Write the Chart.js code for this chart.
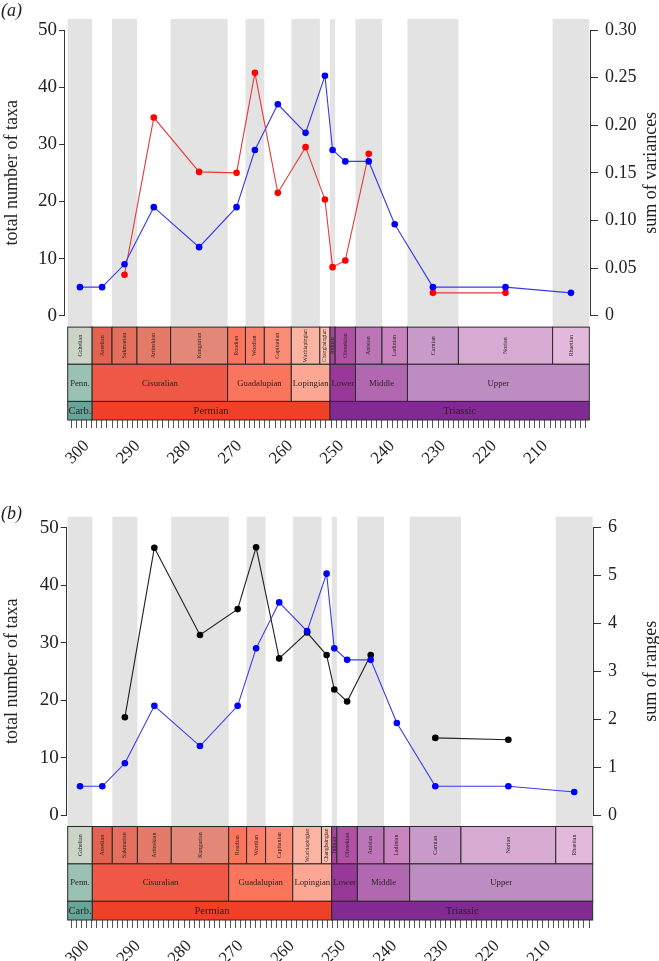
<!DOCTYPE html>
<html>
<head>
<meta charset="utf-8">
<script src="https://cdn.jsdelivr.net/npm/chart.js@4.4.1/dist/chart.umd.min.js"></script>
<style>
  html, body { margin: 0; padding: 0; background: #fff; }
  #wrap { position: relative; width: 659px; height: 961px; overflow: hidden; }
  .panel { position: absolute; left: 0; width: 659px; }
  #panelA { top: 0; height: 480px; }
  #panelB { top: 480px; height: 481px; }
</style>
</head>
<body>
<div id="wrap">
  <div class="panel" id="panelA"><canvas id="chartA"></canvas></div>
  <div class="panel" id="panelB"><canvas id="chartB"></canvas></div>
</div>
<script>
// --- geological timescale (Ma, oldest first) ---
const stageNames = ["Gzhelian", "Asselian", "Sakmarian", "Artinskian", "Kungurian", "Roadian", "Wordian",
  "Capitanian", "Wuchiapingian", "Changhsingian", "Induan", "Olenekian", "Anisian", "Ladinian",
  "Carnian", "Norian", "Rhaetian"];
const stageBounds = [303.7, 298.9, 295.0, 290.1, 283.5, 272.3, 268.8, 265.1, 259.8, 254.2, 252.2,
  251.2, 247.2, 242.0, 237.0, 227.0, 208.5, 201.3];
const stageColors = ["#CCD4C7", "#E36350", "#E36F5C", "#E37B68", "#E38776", "#FB745C", "#FB8069",
  "#FB8D76", "#FCB4A2", "#FCC0B2", "#A4469F", "#B051A5", "#BC75B7", "#C983BF", "#C99BCB",
  "#D6AAD3", "#E3B9DB"];

const seriesNames = ["Penn.", "Cisuralian", "Guadalupian", "Lopingian", "Lower", "Middle", "Upper"];
const seriesBounds = [303.7, 298.9, 272.3, 259.8, 252.2, 247.2, 237.0, 201.3];
const seriesColors = ["#99C2B5", "#EF5845", "#FB745C", "#FBA794", "#983999", "#B168B1", "#BD8CC3"];

const periodNames = ["Carb.", "Permian", "Triassic"];
const periodBounds = [303.7, 298.9, 252.2, 201.3];
const periodColors = ["#67A599", "#F04028", "#812B92"];

// --- series, one value per stage ---
const totalTaxa = [5, 5, 9, 19, 12, 19, 29, 37, 32, 42, 29, 27, 27, 16, 5, 5, 4];
const sumVariances = [null, null, 0.043, 0.208, 0.151, 0.150, 0.255, 0.129, 0.177, 0.122,
  0.051, 0.058, 0.170, null, 0.024, 0.024, null];
const sumRanges = [null, null, 2.04, 5.58, 3.76, 4.30, 5.59, 3.27, 3.81, 3.34,
  2.62, 2.37, 3.34, null, 1.61, 1.57, null];

// --- ticks ---
const ageTicks = [300, 290, 280, 270, 260, 250, 240, 230, 220, 210];
const minorTickRange = [202, 303];
const taxaTicks = [0, 10, 20, 30, 40, 50];
const varianceTicks = [0, 0.05, 0.10, 0.15, 0.20, 0.25, 0.30];
const varianceTickLabels = ["0", "0.05", "0.10", "0.15", "0.20", "0.25", "0.30"];
const rangeTicks = [0, 1, 2, 3, 4, 5, 6];
const rangeTickLabels = ["0", "1", "2", "3", "4", "5", "6"];

const SERIF = "'Liberation Serif', 'DejaVu Serif', serif";
const W = 659;

const stageMid = stageNames.map((_, i) => (stageBounds[i] + stageBounds[i + 1]) / 2);
const minorAges = [];
for (let a = minorTickRange[0]; a <= minorTickRange[1]; a++) minorAges.push(a);

const toPoints = (vals) => vals.map((v, i) => ({ x: stageMid[i], y: v }));

function drawBoxes(ctx, xs, names, bounds, colors, y0, y1, fontSize, vertical) {
  for (let i = 0; i < names.length; i++) {
    const a = xs.getPixelForValue(bounds[i]);
    const b = xs.getPixelForValue(bounds[i + 1]);
    const left = Math.min(a, b), w = Math.abs(b - a);
    ctx.fillStyle = colors[i];
    ctx.fillRect(left, y0, w, y1 - y0);
    ctx.strokeStyle = "#2a2a2a";
    ctx.lineWidth = 1;
    ctx.strokeRect(left, y0, w, y1 - y0);
    ctx.fillStyle = "#2a1f1f";
    ctx.textAlign = "center";
    ctx.textBaseline = "middle";
    if (vertical) {
      let fs = fontSize;
      ctx.font = fs + "px " + SERIF;
      const tw = ctx.measureText(names[i]).width;
      const room = (y1 - y0) - 4;
      if (tw > room) fs = fs * room / tw;
      ctx.font = fs + "px " + SERIF;
      ctx.save();
      ctx.translate(left + w / 2, (y0 + y1) / 2);
      ctx.rotate(-Math.PI / 2);
      ctx.fillText(names[i], 0, 0);
      ctx.restore();
    } else {
      ctx.font = fontSize + "px " + SERIF;
      ctx.fillText(names[i], left + w / 2, (y0 + y1) / 2 + 0.5);
    }
  }
}

const timescalePlugin = {
  id: "timescale",
  beforeDatasetsDraw(chart, args, opts) {
    const { ctx, chartArea } = chart;
    const xs = chart.scales.x, ys = chart.scales.y;
    const tsTop = ys.getPixelForValue(-2);
    ctx.save();
    // alternating grey stage bands
    ctx.fillStyle = "#e3e3e3";
    for (let i = 0; i < stageNames.length; i += 2) {
      const a = xs.getPixelForValue(stageBounds[i]);
      const b = xs.getPixelForValue(stageBounds[i + 1]);
      ctx.fillRect(Math.min(a, b), chartArea.top, Math.abs(b - a), tsTop - chartArea.top);
    }
    // timescale rows
    const h = chartArea.bottom - tsTop;
    const r1 = tsTop + h * 0.4, r2 = tsTop + h * 0.8;
    drawBoxes(ctx, xs, stageNames, stageBounds, stageColors, tsTop, r1, 6, true);
    drawBoxes(ctx, xs, seriesNames, seriesBounds, seriesColors, r1, r2, 8.7, false);
    drawBoxes(ctx, xs, periodNames, periodBounds, periodColors, r2, chartArea.bottom, 10.5, false);
    ctx.restore();
  },
  afterDraw(chart, args, opts) {
    const { ctx, chartArea } = chart;
    const ys = chart.scales.y, y1 = chart.scales.y1;
    ctx.save();
    ctx.strokeStyle = "#333";
    ctx.lineWidth = 1;
    ctx.beginPath();
    const lx = Math.round(chartArea.left) - 0.5;
    ctx.moveTo(lx, ys.getPixelForValue(taxaTicks[0]));
    ctx.lineTo(lx, ys.getPixelForValue(taxaTicks[taxaTicks.length - 1]));
    const rx = Math.round(chartArea.right) + 0.5;
    ctx.moveTo(rx, y1.getPixelForValue(opts.rightTicks[0]));
    ctx.lineTo(rx, y1.getPixelForValue(opts.rightTicks[opts.rightTicks.length - 1]));
    ctx.stroke();

    ctx.fillStyle = "#222";
    ctx.font = "18px " + SERIF;
    ctx.textAlign = "center";
    ctx.textBaseline = "alphabetic";
    const cy = (ys.getPixelForValue(0) + ys.getPixelForValue(50)) / 2;
    ctx.save();
    ctx.translate(17, cy);
    ctx.rotate(-Math.PI / 2);
    ctx.fillText("total number of taxa", 0, 0);
    ctx.restore();
    ctx.save();
    ctx.translate(656, cy);
    ctx.rotate(-Math.PI / 2);
    ctx.fillText(opts.rightTitle, 0, 0);
    ctx.restore();

    ctx.font = "italic 18px " + SERIF;
    ctx.textAlign = "left";
    ctx.fillText(opts.panelLabel, 1, opts.panelLabelY);
    ctx.restore();
  }
};

function makePanel(p) {
  const pxPerMa = (p.bandRight - p.bandLeft) / (stageBounds[0] - stageBounds[stageBounds.length - 1]);
  const ageMax = stageBounds[0] + (p.bandLeft - p.left) / pxPerMa;
  const ageMin = stageBounds[stageBounds.length - 1] - (p.right - p.bandRight) / pxPerMa;
  const pxPerUnit = (p.zeroY - p.fiftyY) / 50;
  const yMax = 50 + (p.fiftyY - p.top) / pxPerUnit;
  const yMin = -(p.bottom - p.zeroY) / pxPerUnit;
  const tickFont = { family: SERIF, size: 19 };

  new Chart(document.getElementById(p.canvas), {
    type: "line",
    data: {
      datasets: [
        {
          label: "total number of taxa",
          data: toPoints(totalTaxa),
          yAxisID: "y",
          borderColor: "#3a3ae8",
          backgroundColor: "#0000ff",
          borderWidth: 1.1,
          pointRadius: 3.3,
          pointBorderWidth: 0,
          pointBackgroundColor: "#0000ff",
          tension: 0,
          spanGaps: false,
        },
        {
          label: p.rightTitle,
          data: toPoints(p.second),
          yAxisID: "y1",
          borderColor: p.lineColor,
          backgroundColor: p.pointColor,
          borderWidth: 1.1,
          pointRadius: 3.3,
          pointBorderWidth: 0,
          pointBackgroundColor: p.pointColor,
          tension: 0,
          spanGaps: false,
        },
      ],
    },
    options: {
      responsive: true,
      maintainAspectRatio: false,
      animation: false,
      layout: { padding: { top: p.top, left: 0, right: 0, bottom: 0 } },
      scales: {
        x: {
          type: "linear",
          reverse: true,
          min: ageMin,
          max: ageMax,
          afterBuildTicks: (s) => { s.ticks = minorAges.map((v) => ({ value: v })); },
          afterFit: (s) => { s.height = p.height - p.bottom; },
          border: { display: false },
          grid: { drawOnChartArea: false, drawTicks: true, tickLength: 8, color: "#555", lineWidth: 1 },
          ticks: {
            autoSkip: false,
            maxRotation: 45,
            minRotation: 45,
            padding: 8,
            color: "#222",
            font: { family: SERIF, size: 17 },
            callback: (v) => (ageTicks.includes(v) ? String(v) : ""),
          },
        },
        y: {
          position: "left",
          min: yMin,
          max: yMax,
          afterBuildTicks: (s) => { s.ticks = taxaTicks.map((v) => ({ value: v })); },
          afterFit: (s) => { s.width = p.left; },
          border: { display: false },
          grid: { drawOnChartArea: false, tickLength: 6, color: "#333" },
          ticks: { padding: 2, color: "#222", font: tickFont },
        },
        y1: {
          position: "right",
          min: yMin * p.factor,
          max: yMax * p.factor,
          afterBuildTicks: (s) => { s.ticks = p.rightTicks.map((v) => ({ value: v })); },
          afterFit: (s) => { s.width = W - p.right; },
          border: { display: false },
          grid: { drawOnChartArea: false, tickLength: 8, color: "#333" },
          ticks: {
            padding: 7,
            color: "#222",
            font: { family: SERIF, size: 18 },
            callback: (v, i) => p.rightTickLabels[i],
          },
        },
      },
      plugins: {
        legend: { display: false },
        tooltip: { enabled: false },
        timescale: {
          rightTitle: p.rightTitle,
          rightTicks: p.rightTicks,
          panelLabel: p.panelLabel,
          panelLabelY: p.panelLabelY,
        },
      },
    },
    plugins: [timescalePlugin],
  });
}

makePanel({
  canvas: "chartA", height: 480,
  left: 65, right: 590, top: 19, bottom: 420,
  zeroY: 315.7, fiftyY: 30, bandLeft: 67.7, bandRight: 589.3,
  second: sumVariances, factor: 0.006, rightTicks: varianceTicks, rightTickLabels: varianceTickLabels,
  rightTitle: "sum of variances", lineColor: "#e83a3a", pointColor: "#ff0000",
  panelLabel: "(a)", panelLabelY: 15.5,
});

makePanel({
  canvas: "chartB", height: 481,
  left: 66.7, right: 593, top: 36.7, bottom: 440,
  zeroY: 335, fiftyY: 47.7, bandLeft: 67.7, bandRight: 592.7,
  second: sumRanges, factor: 0.12, rightTicks: rangeTicks, rightTickLabels: rangeTickLabels,
  rightTitle: "sum of ranges", lineColor: "#222222", pointColor: "#000000",
  panelLabel: "(b)", panelLabelY: 38.5,
});
</script>
</body>
</html>
